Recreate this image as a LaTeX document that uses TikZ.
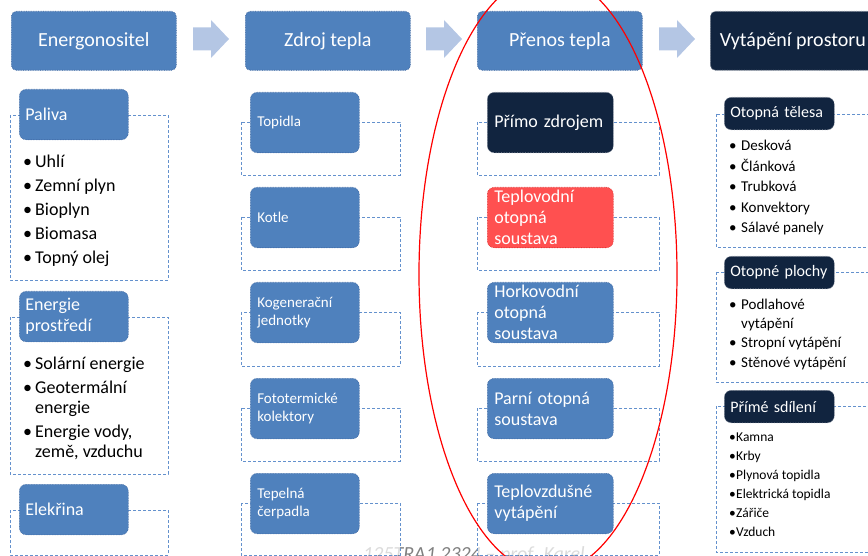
\documentclass[tikz,border=0pt]{standalone}
\usepackage{fontspec}
\setmainfont{Carlito}
\definecolor{cblue}{RGB}{79,129,189}
\definecolor{cblueb}{RGB}{58,98,156}
\definecolor{cdark}{RGB}{17,36,63}
\definecolor{cred}{RGB}{255,80,80}
\definecolor{credb}{RGB}{215,40,40}
\definecolor{cdash}{RGB}{100,145,205}
\definecolor{carrow}{RGB}{180,198,228}
\newcommand\bu[1]{\makebox[#1][l]{•}}
\newcommand\nb[1]{\makebox[#1][l]{}}
\begin{document}
\begin{tikzpicture}[x=1pt,y=-1pt,
  hdrbox/.style={rectangle, rounded corners=5pt, fill=cblue, draw=cblueb, densely dotted, line width=0.7pt,
    text=white, font=\fontsize{20}{24}\selectfont, minimum width=165pt, minimum height=59pt,
    inner sep=0pt, anchor=north west},
  tabbox/.style={rectangle, rounded corners=7pt, fill=cblue, draw=cblueb, densely dotted, line width=0.6pt,
    text=white, align=left, inner ysep=1pt, anchor=north west},
  tabA/.style={tabbox, text width=97pt, inner xsep=6pt, minimum height=50.5pt, font=\fontsize{18}{20.7}\selectfont},
  tabB/.style={tabbox, text width=95pt, inner xsep=7pt, minimum height=60.5pt, font=\fontsize{15}{17.7}\selectfont},
  tabC/.style={tabbox, text width=112pt, inner xsep=7pt, minimum height=60.5pt, font=\fontsize{18}{21}\selectfont},
  tabD/.style={tabbox, fill=cdark, draw=cdark!50!white, text width=98pt, inner xsep=6pt, minimum height=32.5pt,
    font=\fontsize{16}{19}\selectfont},
  outerbox/.style={draw=cdash, dash pattern=on 3pt off 2pt, line width=0.8pt, fill=white, fill opacity=0.72},
  liA/.style={anchor=base west, inner sep=0pt, font=\fontsize{18}{21}\selectfont},
  liD/.style={anchor=base west, inner sep=0pt, font=\fontsize{15}{18}\selectfont},
  liE/.style={anchor=base west, inner sep=0pt, font=\fontsize{13.5}{16}\selectfont},
  barrow/.style={fill=carrow}
]
\useasboundingbox (0,0) rectangle (868,556);
\clip (0,0) rectangle (868,556);

% footer text (partly covered)
\node[anchor=base west, inner sep=0pt, text=black!50, font=\itshape\fontsize{20}{24}\selectfont] (foot)
  at (363,560) {125TRA1 2324 – prof. Karel};

% header boxes
\node[hdrbox] (h1) at (11,11) {Energonositel};
\node[hdrbox] (h2) at (245,11) {Zdroj tepla};
\node[hdrbox] (h3) at (477,11) {Přenos tepla};
\node[hdrbox, fill=cdark, draw=cdark!50!white] (h4) at (710,11) {Vytápění prostoru};

% block arrows
\foreach \ax in {193,426,659}
  \fill[barrow] (\ax,27.5) -- ++(18,0) -- ++(0,-7.5) -- ++(18,19) -- ++(-18,19) -- ++(0,-7.5) -- ++(-18,0) -- cycle;

% outer dashed boxes
\draw[outerbox] (10,115) rectangle (168,280);
\draw[outerbox] (10,317) rectangle (168,474);
\draw[outerbox] (10,510) rectangle (168,555);
\foreach \ya/\yb in {122/175,217/270,312/366,408/461,503/555} {
  \draw[outerbox] (241,\ya) rectangle (400,\yb);
  \draw[outerbox] (477,\ya) rectangle (659,\yb);
}
\draw[outerbox] (716,114) rectangle (880,247);
\draw[outerbox] (716,272) rectangle (880,382);
\draw[outerbox] (716,406) rectangle (880,552);

% column 1
\node[tabA] (p1) at (19,89) {Paliva};
\node[tabA] (p2) at (19,291) {Energie\\prostředí};
\node[tabA] (p3) at (19,484) {Elekřina};
\foreach \t [count=\i] in {Uhlí, Zemní plyn, Bioplyn, Biomasa, Topný olej}
  \node[liA] (a\i) at (23,{168+24*(\i-1)}) {\bu{12pt}\t};
\node[liA] (b1) at (23,369) {\bu{12pt}Solární energie};
\node[liA] (b2) at (23,393) {\bu{12pt}Geotermální};
\node[liA] (b3) at (23,413.5) {\nb{12pt}energie};
\node[liA] (b4) at (23,437) {\bu{12pt}Energie vody,};
\node[liA] (b5) at (23,457.5) {\nb{12pt}země, vzduchu};

% column 2
\node[tabB] (z1) at (250,92) {Topidla};
\node[tabB] (z2) at (250,187) {Kotle};
\node[tabB] (z3) at (250,282) {Kogenerační\\jednotky};
\node[tabB] (z4) at (250,378) {Fototermické\\kolektory};
\node[tabB] (z5) at (250,473) {Tepelná\\čerpadla};

% column 3
\node[tabC, fill=cdark, draw=cdark!50!white] (t1) at (487,92) {Přímo zdrojem};
\node[tabC, fill=cred, draw=credb] (t2) at (487,187) {Teplovodní\\otopná\\soustava};
\node[tabC] (t3) at (487,282) {Horkovodní\\otopná\\soustava};
\node[tabC] (t4) at (487,378) {Parní otopná\\soustava};
\node[tabC] (t5) at (487,473) {Teplovzdušné\\vytápění};

% column 4
\node[tabD] (v1) at (724,97) {Otopná tělesa};
\node[tabD] (v2) at (724,256) {Otopné plochy};
\node[tabD] (v3) at (724,390) {Přímé sdílení};
\foreach \t [count=\i] in {Desková, Článková, Trubková, Konvektory, Sálavé panely}
  \node[liD] (c\i) at (729,{150.7+20.5*(\i-1)}) {\bu{12pt}\t};
\node[liD] (d1) at (729,309.5) {\bu{12pt}Podlahové};
\node[liD] (d2) at (729,328) {\nb{12pt}vytápění};
\node[liD] (d3) at (729,347.5) {\bu{12pt}Stropní vytápění};
\node[liD] (d4) at (729,367) {\bu{12pt}Stěnové vytápění};
\foreach \t [count=\i] in {Kamna, Krby, Plynová topidla, Elektrická topidla, Zářiče, Vzduch}
  \node[liE] (e\i) at (729,{441.5+19*(\i-1)}) {\bu{7pt}\t};

% red ellipse
\draw[red, line width=1.2pt] (548,274) ellipse [x radius=129pt, y radius=299pt];
\end{tikzpicture}
\end{document}
